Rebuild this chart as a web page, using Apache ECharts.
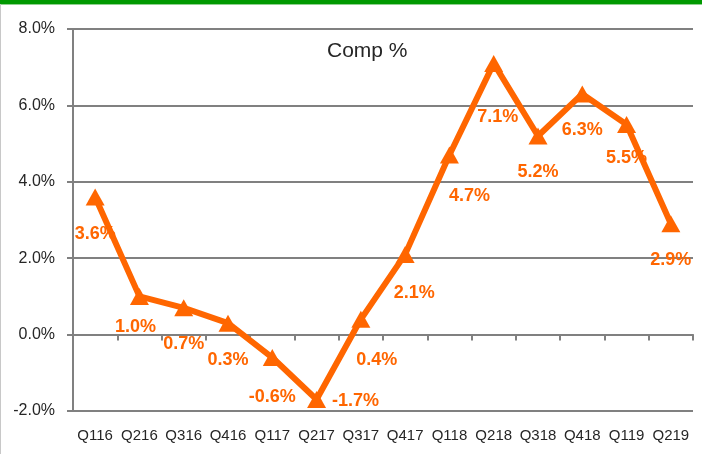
<!DOCTYPE html>
<html>
<head>
<meta charset="utf-8">
<script src="https://cdn.jsdelivr.net/npm/echarts@6/dist/echarts.min.js"></script>
<style>
html,body{margin:0;padding:0;background:#fff;}
#c{width:713px;height:454px;}
</style>
</head>
<body>
<div id="c"></div>
<script>
const categories = ['Q116','Q216','Q316','Q416','Q117','Q217','Q317','Q417','Q118','Q218','Q318','Q418','Q119','Q219'];
const compValues = [3.6, 1.0, 0.7, 0.3, -0.6, -1.7, 0.4, 2.1, 4.7, 7.1, 5.2, 6.3, 5.5, 2.9];
const titleText = 'Comp %';
const yMin = -2, yMax = 8, yStep = 2;

const orange = '#FF6600';
const gray = '#808080';
const fontFam = '"Liberation Sans", Arial, sans-serif';

// label nudges (styling only), keyed by index
const labelNudge = {1:[-4,-6], 4:[0,3], 6:[16,4], 7:[9,2], 8:[20,4], 9:[4,17], 12:[0,-3]};

const seriesData = compValues.map((v, i) => {
  const item = { value: v };
  if (i === 5) {
    item.label = { position: 'right', distance: 6, offset: [0, 1] };
  } else if (labelNudge[i]) {
    item.label = { offset: labelNudge[i] };
  }
  return item;
});

const chart = echarts.init(document.getElementById('c'), null, {renderer: 'canvas'});
chart.setOption({
  backgroundColor: '#fff',
  animation: false,
  title: {
    text: titleText,
    left: 322, top: 36,
    textStyle: { fontFamily: fontFam, fontSize: 21, fontWeight: 'normal', color: '#262626' }
  },
  graphic: [
    { type: 'rect', left: 0, top: 0, shape: { width: 702, height: 4 }, style: { fill: '#009900' }, z: 100 },
    { type: 'rect', left: 0, top: 4, shape: { width: 702, height: 1 }, style: { fill: '#8fd08f' }, z: 100 },
    { type: 'rect', left: 0, top: 4, shape: { width: 1, height: 450 }, style: { fill: '#c8c8c8' }, z: 100 }
  ],
  grid: { left: 73, right: 20, top: 29, bottom: 43 },
  xAxis: [
    {
      type: 'category',
      data: categories,
      boundaryGap: true,
      position: 'bottom',
      axisLine: { show: true, onZero: true, lineStyle: { color: gray, width: 2 } },
      axisTick: { show: true, length: 6, alignWithLabel: false, lineStyle: { color: gray, width: 2 } },
      axisLabel: { show: false },
      splitLine: { show: false }
    },
    {
      type: 'category',
      data: categories,
      boundaryGap: true,
      position: 'bottom',
      axisLine: { show: false, onZero: false },
      axisTick: { show: false },
      axisLabel: { show: true, margin: 17, interval: 0, color: '#262626', fontFamily: fontFam, fontSize: 15 },
      splitLine: { show: false }
    }
  ],
  yAxis: {
    type: 'value',
    min: yMin, max: yMax, interval: yStep,
    axisLine: { show: true, lineStyle: { color: gray, width: 2 } },
    axisTick: { show: true, length: 6, lineStyle: { color: gray, width: 2 } },
    axisLabel: { margin: 18, color: '#262626', fontFamily: fontFam, fontSize: 16,
      formatter: v => v.toFixed(1) + '%' },
    splitLine: { show: true, lineStyle: { color: gray, width: 2 } }
  },
  series: [{
    type: 'line',
    xAxisIndex: 0,
    data: seriesData,
    symbol: 'triangle',
    symbolSize: [19, 17],
    showAllSymbol: true,
    lineStyle: { color: orange, width: 6 },
    itemStyle: { color: orange },
    label: {
      show: true,
      position: 'bottom',
      distance: 19,
      color: orange,
      fontFamily: fontFam,
      fontSize: 18,
      fontWeight: 'bold',
      formatter: p => p.value.toFixed(1) + '%'
    },
    z: 5
  }]
});
</script>
</body>
</html>
